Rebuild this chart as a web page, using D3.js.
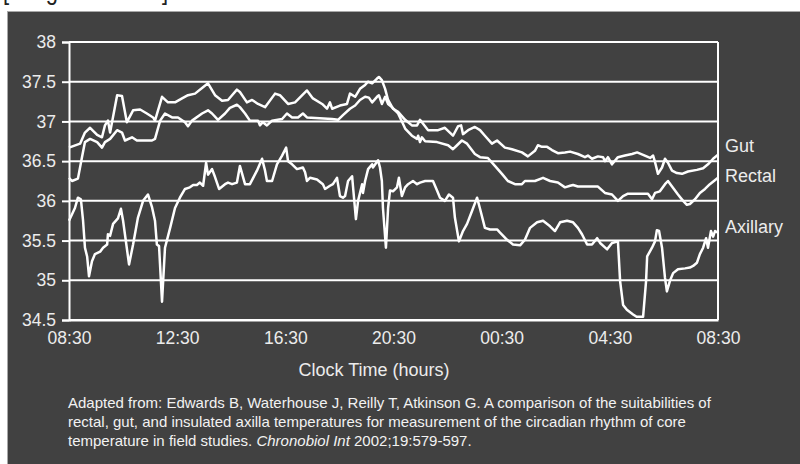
<!DOCTYPE html>
<html>
<head>
<meta charset="utf-8">
<script src="https://cdn.jsdelivr.net/npm/d3@7"></script>
<style>
  html, body { margin: 0; padding: 0; background: #fff; }
  svg { display: block; font-family: "Liberation Sans", Arial, sans-serif; }
</style>
</head>
<body>
<svg id="chart" width="800" height="464"></svg>
<script>
// hours elapsed since 08:30, body temperature (°C)
const gut = [
  [0.00,36.67],[0.41,36.72],[0.59,36.86],[0.78,36.92],[1.04,36.83],[1.22,36.80],[1.33,36.95],[1.44,37.01],
  [1.52,36.86],[1.78,37.33],[1.96,37.32],[2.14,36.99],[2.37,37.14],[2.63,37.15],[2.88,37.10],[3.11,37.05],
  [3.18,37.01],[3.44,37.31],[3.66,37.24],[3.92,37.24],[4.18,37.29],[4.40,37.33],[4.66,37.35],[4.92,37.42],
  [5.14,37.48],[5.40,37.33],[5.66,37.26],[5.88,37.27],[6.03,37.33],[6.21,37.40],[6.32,37.37],[6.58,37.24],
  [6.77,37.27],[6.99,37.22],[7.25,37.18],[7.62,37.35],[7.80,37.33],[8.10,37.22],[8.36,37.24],[8.80,37.39],
  [9.02,37.29],[9.36,37.22],[9.54,37.16],[9.65,37.24],[9.73,37.16],[10.02,37.20],[10.28,37.22],[10.39,37.35],
  [10.58,37.31],[10.76,37.41],[10.95,37.46],[11.06,37.50],[11.21,37.48],[11.39,37.54],[11.46,37.56],[11.57,37.52],
  [11.69,37.41],[11.80,37.27],[11.98,37.16],[12.17,37.12],[12.43,37.02],[12.68,36.95],[12.87,36.95],[12.98,37.02],
  [13.28,36.89],[13.65,36.89],[13.90,36.92],[14.20,36.82],[14.39,36.94],[14.50,36.95],[14.57,36.84],[14.76,36.89],
  [15.01,36.93],[15.20,36.89],[15.38,36.82],[15.64,36.72],[15.83,36.76],[16.12,36.67],[16.38,36.65],[16.75,36.61],
  [16.97,36.56],[17.23,36.63],[17.34,36.70],[17.49,36.68],[17.68,36.68],[17.86,36.64],[18.08,36.60],[18.34,36.61],
  [18.53,36.62],[18.82,36.59],[19.08,36.55],[19.19,36.57],[19.34,36.53],[19.56,36.56],[19.75,36.55],[19.82,36.50],
  [19.93,36.55],[20.08,36.46],[20.30,36.55],[20.56,36.57],[20.82,36.59],[21.01,36.61],[21.23,36.58],[21.49,36.54],
  [21.60,36.57],[21.67,36.49],[21.78,36.34],[21.93,36.42],[22.04,36.53],[22.15,36.48],[22.30,36.38],[22.48,36.35],
  [22.67,36.34],[22.89,36.37],[23.22,36.39],[23.45,36.41],[23.63,36.46],[23.82,36.53],[24.00,36.58]
];

const rectal = [
  [0.00,36.29],[0.11,36.25],[0.33,36.28],[0.48,36.55],[0.59,36.74],[0.78,36.78],[1.04,36.74],[1.22,36.67],
  [1.33,36.74],[1.52,36.78],[1.78,36.89],[1.96,36.86],[2.07,36.76],[2.33,36.80],[2.51,36.76],[2.81,36.76],
  [3.07,36.76],[3.18,36.78],[3.37,37.01],[3.55,37.10],[3.81,37.05],[4.03,37.05],[4.29,36.99],[4.40,36.94],
  [4.55,37.01],[4.92,37.10],[5.14,37.14],[5.29,37.10],[5.51,37.02],[5.77,37.10],[5.95,37.17],[6.21,37.21],
  [6.32,37.18],[6.51,37.10],[6.69,37.01],[6.99,37.01],[7.06,36.95],[7.17,36.99],[7.32,36.95],[7.51,37.01],
  [7.88,37.03],[8.06,37.10],[8.25,37.05],[8.47,37.05],[8.65,37.10],[8.80,37.05],[9.73,37.03],[9.95,37.02],
  [10.13,37.08],[10.39,37.16],[10.58,37.20],[10.76,37.27],[10.95,37.31],[11.09,37.30],[11.21,37.24],[11.39,37.31],
  [11.46,37.33],[11.57,37.22],[11.69,37.31],[11.80,37.22],[11.94,37.18],[12.17,37.10],[12.35,36.97],[12.43,36.91],
  [12.68,36.82],[12.87,36.78],[12.91,36.82],[12.98,36.74],[13.05,36.80],[13.17,36.75],[13.61,36.74],[14.02,36.70],
  [14.20,36.65],[14.35,36.70],[14.53,36.76],[14.72,36.72],[15.01,36.59],[15.20,36.55],[15.49,36.54],[15.75,36.44],
  [16.01,36.34],[16.23,36.25],[16.49,36.21],[16.75,36.21],[16.86,36.25],[17.23,36.25],[17.53,36.29],[17.79,36.25],
  [18.08,36.23],[18.34,36.17],[18.53,36.19],[18.64,36.20],[18.82,36.18],[19.08,36.18],[19.56,36.18],[19.82,36.10],
  [20.08,36.08],[20.30,36.00],[20.49,36.06],[20.67,36.09],[21.41,36.09],[21.56,36.02],[21.67,36.10],[21.85,36.12],
  [22.04,36.21],[22.15,36.25],[22.30,36.18],[22.52,36.08],[22.71,36.00],[22.85,35.95],[22.96,35.96],[23.15,36.02],
  [23.33,36.10],[23.52,36.15],[23.70,36.21],[24.00,36.29]
];

const axillary = [
  [0.00,35.75],[0.22,35.91],[0.33,36.04],[0.44,36.02],[0.52,35.75],[0.59,35.41],[0.67,35.30],[0.74,35.05],
  [0.85,35.24],[0.96,35.33],[1.15,35.36],[1.26,35.41],[1.41,35.45],[1.44,35.58],[1.52,35.56],[1.63,35.71],
  [1.81,35.78],[1.92,35.90],[2.00,35.75],[2.22,35.20],[2.37,35.45],[2.55,35.79],[2.74,36.00],[2.92,36.08],
  [3.07,35.92],[3.18,35.75],[3.25,35.45],[3.33,35.43],[3.44,34.73],[3.48,34.98],[3.55,35.41],[3.74,35.66],
  [3.92,35.91],[4.10,36.04],[4.29,36.15],[4.47,36.17],[4.59,36.20],[4.73,36.20],[4.84,36.23],[4.96,36.19],
  [5.07,36.48],[5.14,36.33],[5.29,36.40],[5.40,36.30],[5.55,36.15],[5.77,36.21],[5.88,36.23],[6.03,36.21],
  [6.21,36.23],[6.32,36.44],[6.51,36.21],[6.69,36.21],[6.95,36.38],[7.14,36.53],[7.25,36.38],[7.32,36.25],
  [7.51,36.25],[7.69,36.46],[7.88,36.57],[8.03,36.67],[8.10,36.50],[8.25,36.46],[8.43,36.40],[8.65,36.42],
  [8.73,36.36],[8.80,36.25],[8.91,36.29],[9.17,36.27],[9.39,36.21],[9.47,36.15],[9.65,36.19],[9.76,36.21],
  [9.91,36.29],[10.02,36.06],[10.13,36.04],[10.21,36.06],[10.32,36.25],[10.47,36.31],[10.50,36.19],[10.61,35.77],
  [10.69,36.00],[10.84,36.21],[10.87,36.10],[10.95,36.25],[11.06,36.40],[11.21,36.46],[11.24,36.42],[11.43,36.51],
  [11.50,36.42],[11.57,36.25],[11.61,35.91],[11.72,35.41],[11.80,35.91],[11.87,36.13],[11.98,36.12],[12.13,36.17],
  [12.20,36.29],[12.31,36.06],[12.43,36.17],[12.54,36.21],[12.72,36.25],[12.87,36.21],[12.98,36.23],[13.17,36.25],
  [13.46,36.25],[13.61,36.13],[13.72,36.04],[13.90,36.00],[14.05,36.08],[14.20,36.04],[14.27,35.79],[14.42,35.49],
  [14.57,35.62],[14.72,35.71],[14.90,35.87],[15.09,36.04],[15.20,35.90],[15.38,35.66],[15.57,35.64],[15.83,35.64],
  [15.94,35.60],[16.20,35.51],[16.42,35.45],[16.68,35.44],[16.86,35.51],[17.05,35.66],[17.31,35.73],[17.53,35.75],
  [17.79,35.68],[17.97,35.62],[18.16,35.73],[18.42,35.75],[18.64,35.73],[18.82,35.66],[18.97,35.58],[19.16,35.45],
  [19.34,35.45],[19.53,35.53],[19.64,35.47],[19.90,35.39],[20.08,35.47],[20.30,35.49],[20.38,34.99],[20.49,34.69],
  [20.63,34.63],[20.86,34.57],[20.99,34.54],[21.23,34.54],[21.34,34.99],[21.38,35.30],[21.56,35.41],[21.67,35.49],
  [21.74,35.63],[21.82,35.62],[21.93,35.41],[22.04,35.03],[22.11,34.86],[22.22,34.99],[22.34,35.09],[22.52,35.14],
  [22.78,35.15],[22.96,35.16],[23.08,35.18],[23.22,35.22],[23.33,35.33],[23.45,35.41],[23.56,35.53],[23.63,35.41],
  [23.74,35.62],[23.82,35.55],[23.89,35.62],[24.00,35.60]
];

const seriesNames = ['Gut', 'Rectal', 'Axillary'];
const labelValues = [36.69, 36.32, 35.67];   // where each name sits against the y scale
const xTickHours = [0, 4, 8, 12, 16, 20, 24];
const xTickLabels = ['08:30', '12:30', '16:30', '20:30', '00:30', '04:30', '08:30'];
const yTicks = [34.5, 35, 35.5, 36, 36.5, 37, 37.5, 38];
const citation = [
  'Adapted from: Edwards B, Waterhouse J, Reilly T, Atkinson G. A comparison of the suitabilities of',
  'rectal, gut, and insulated axilla temperatures for measurement of the circadian rhythm of core',
  'temperature in field studies. '
];

const svg = d3.select('#chart');
const width = 800, height = 464;
const margin = { top: 42, right: 82, bottom: 144, left: 69 };
const innerWidth = width - margin.left - margin.right;
const innerHeight = height - margin.top - margin.bottom;

// Caption cut off by the top of the picture (only descenders show)
svg.append('text')
  .attr('x', 3)
  .attr('y', -1.5)
  .attr('textLength', 165)
  .attr('lengthAdjust', 'spacingAndGlyphs')
  .style('font-size', '27px')
  .style('fill', '#222')
  .text('[Image removed]');

// Dark panel
svg.append('rect')
  .attr('x', 7.5).attr('y', 11.5)
  .attr('width', 800).attr('height', 460)
  .attr('fill', '#414141')
  .attr('stroke', '#a8a8a8')
  .attr('stroke-width', 1);

const g = svg.append('g')
  .attr('transform', `translate(${margin.left},${margin.top})`);

const x = d3.scaleLinear().domain([0, 24]).range([0, innerWidth]);
const y = d3.scaleLinear().domain([34.5, 38]).range([innerHeight, 0]);

// Horizontal grid
g.append('g')
  .selectAll('line')
  .data(yTicks)
  .enter()
  .append('line')
  .attr('x1', 0)
  .attr('x2', innerWidth)
  .attr('y1', d => y(d))
  .attr('y2', d => y(d))
  .attr('stroke', '#fff')
  .attr('stroke-width', 2);

// Right border
g.append('line')
  .attr('x1', innerWidth).attr('x2', innerWidth)
  .attr('y1', 0).attr('y2', innerHeight)
  .attr('stroke', '#fff')
  .attr('stroke-width', 2);

// Y axis
const yAxis = g.append('g')
  .call(d3.axisLeft(y)
    .tickValues(yTicks)
    .tickSize(7)
    .tickPadding(6)
    .tickFormat(d => String(d)));
yAxis.select('.domain').attr('stroke', '#fff').attr('stroke-width', 2);
yAxis.selectAll('.tick line').attr('stroke', '#fff').attr('stroke-width', 2);
yAxis.selectAll('text')
  .style('font-size', '17.5px')
  .style('fill', '#ececec')
  .style('font-family', '"Liberation Sans", Arial, sans-serif');

// X axis
const xAxis = g.append('g')
  .attr('transform', `translate(0,${innerHeight})`)
  .call(d3.axisBottom(x)
    .tickValues(xTickHours)
    .tickSize(0)
    .tickPadding(12)
    .tickFormat((d, i) => xTickLabels[i]));
xAxis.select('.domain').attr('stroke', '#fff').attr('stroke-width', 2);
xAxis.selectAll('text')
  .style('font-size', '17.5px')
  .style('fill', '#ececec')
  .style('font-family', '"Liberation Sans", Arial, sans-serif');

// Lines
const line = d3.line()
  .x(d => x(d[0]))
  .y(d => y(d[1]));

const series = [gut, rectal, axillary];
g.selectAll('.series')
  .data(series)
  .enter()
  .append('path')
  .attr('class', 'series')
  .attr('d', line)
  .attr('fill', 'none')
  .attr('stroke', '#fff')
  .attr('stroke-width', 2.5)
  .attr('stroke-linejoin', 'round');

// Series labels
g.selectAll('.series-label')
  .data(seriesNames)
  .enter()
  .append('text')
  .attr('class', 'series-label')
  .attr('x', innerWidth + 7)
  .attr('y', (d, i) => y(labelValues[i]))
  .attr('dy', '0.35em')
  .style('font-size', '18px')
  .style('fill', '#ececec')
  .text(d => d);

// Axis title
svg.append('text')
  .attr('x', 374)
  .attr('y', 376)
  .attr('text-anchor', 'middle')
  .style('font-size', '18px')
  .style('fill', '#ececec')
  .text('Clock Time (hours)');

// Citation
const cite = svg.append('g')
  .style('font-size', '15px')
  .style('fill', '#f2f2f2');
citation.forEach((t, i) => {
  const txt = cite.append('text')
    .attr('x', 68)
    .attr('y', 408 + i * 19)
    .text(t);
  if (i === 2) {
    txt.append('tspan').style('font-style', 'italic').text('Chronobiol Int');
    txt.append('tspan').text(' 2002;19:579-597.');
  }
});
</script>
</body>
</html>
